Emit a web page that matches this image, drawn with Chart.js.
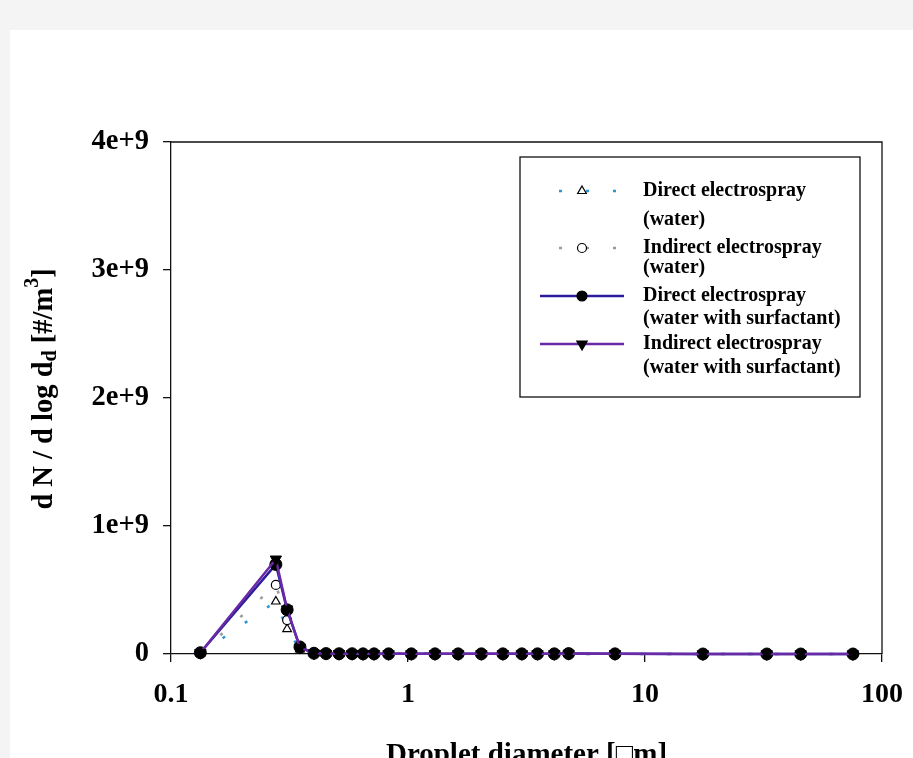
<!DOCTYPE html>
<html>
<head>
<meta charset="utf-8">
<script src="https://cdn.jsdelivr.net/npm/chart.js@4/dist/chart.umd.min.js"></script>
<style>
  html, body { margin: 0; padding: 0; background: #f4f4f4; overflow: hidden; }
  #wrap { position: absolute; left: 10px; top: 30px; width: 903px; height: 743px; background: #ffffff; }
  canvas { display: block; }
</style>
</head>
<body>
<div id="wrap"><canvas id="c" width="903" height="743"></canvas></div>
<script>
// ---- data ----
const diameters = [0.133, 0.277, 0.309, 0.350, 0.401, 0.451, 0.512, 0.581, 0.646, 0.719, 0.828, 1.033, 1.300, 1.628, 2.040, 2.514, 3.022, 3.519, 4.143, 4.761, 7.471, 17.55, 32.65, 45.4, 75.4];
const directWater = [4e6, 4.1e8, 1.95e8, 3.5e7, 4e6, 2e6, 1e6, 1e6, 1e6, 1e6, 1e6, 1e6, 1e6, 1e6, 1e6, 1e6, 1e6, 1e6, 1e6, 1e6, 0, 0, 0, 0, 0];
const indirectWater = [5e6, 5.4e8, 2.65e8, 4e7, 5e6, 2e6, 1e6, 1e6, 1e6, 1e6, 1e6, 1e6, 1e6, 1e6, 1e6, 1e6, 1e6, 1e6, 1e6, 1e6, 0, 0, 0, 0, 0];
const directSurf = [1e7, 7.0e8, 3.45e8, 5.5e7, 6e6, 3e6, 2e6, 2e6, 1e6, 1e6, 1e6, 1e6, 1e6, 1e6, 1e6, 1e6, 1e6, 1e6, 1e6, 3e6, 1e6, 0, 0, 0, 0];
const indirectSurf = [1e7, 7.4e8, 3.5e8, 5e7, 5e6, 3e6, 2e6, 2e6, 1e6, 1e6, 1e6, 1e6, 1e6, 1e6, 1e6, 1e6, 1e6, 1e6, 1e6, 3e6, 1e6, 0, 0, 0, 0];
const xTickValues = [0.1, 1, 10, 100];
const yTickValues = [0, 1e9, 2e9, 3e9, 4e9];
const seriesNames = [
  ['Direct electrospray', '(water)'],
  ['Indirect electrospray', '(water)'],
  ['Direct electrospray', '(water with surfactant)'],
  ['Indirect electrospray', '(water with surfactant)']
];

const pts = (ys) => diameters.map((x, i) => ({x: x, y: ys[i]}));
const SERIF = '"Liberation Serif", "Times New Roman", serif';
const DOT = [3, 24];
const colBlueDot = '#2a95d0';
const colGrayDot = '#9a9a9a';
const colDirect = '#2a1c9a';
const colIndirect = '#6a2aa8';

const framePlugin = {
  id: 'frame',
  afterDraw(chart) {
    const ctx = chart.ctx;
    const a = chart.chartArea;
    ctx.save();
    ctx.strokeStyle = '#111';
    ctx.lineWidth = 1.3;
    ctx.beginPath();
    ctx.moveTo(a.left, a.top); ctx.lineTo(a.right, a.top); ctx.lineTo(a.right, a.bottom);
    ctx.stroke();

    // y-axis title with subscript / superscript
    const big = 'bold 28.5px ' + SERIF;
    const small = 'bold 20px ' + SERIF;
    const parts = [
      {t: 'd N / d log d', f: big, dy: 0},
      {t: 'd', f: small, dy: 6},
      {t: ' [#/m', f: big, dy: 0},
      {t: '3', f: small, dy: -12},
      {t: ']', f: big, dy: 0}
    ];
    let total = 0;
    parts.forEach(p => { ctx.font = p.f; p.w = ctx.measureText(p.t).width; total += p.w; });
    ctx.translate(35, 359);
    ctx.rotate(-Math.PI / 2);
    ctx.fillStyle = '#000';
    ctx.textBaseline = 'middle';
    ctx.textAlign = 'left';
    let x = -total / 2;
    parts.forEach(p => { ctx.font = p.f; ctx.fillText(p.t, x, p.dy); x += p.w; });
    ctx.restore();

    // legend
    ctx.save();
    const L = 510, T = 127, R = 850, B = 367;
    ctx.fillStyle = '#fff';
    ctx.fillRect(L, T, R - L, B - T);
    ctx.strokeStyle = '#111';
    ctx.lineWidth = 1.3;
    ctx.strokeRect(L, T, R - L, B - T);
    const rows = [
      {y: 161, y2: 190, color: colBlueDot, dash: DOT, lx0: 549, style: 'triangle', rot: 0, fill: '#fff', r: 5},
      {y: 218, y2: 238, color: colGrayDot, dash: DOT, lx0: 549, style: 'circle', rot: 0, fill: '#fff', r: 4.5},
      {y: 266, y2: 289, color: colDirect, dash: [], lx0: 530, style: 'circle', rot: 0, fill: '#000', r: 5},
      {y: 314, y2: 338, color: colIndirect, dash: [], lx0: 530, style: 'triangle', rot: 180, fill: '#000', r: 6}
    ];
    rows.forEach((r, i) => {
      ctx.save();
      ctx.strokeStyle = r.color;
      ctx.lineWidth = 2.5;
      ctx.setLineDash(r.dash);
      ctx.beginPath();
      ctx.moveTo(r.lx0, r.y);
      ctx.lineTo(614, r.y);
      ctx.stroke();
      ctx.restore();
      ctx.save();
      ctx.fillStyle = r.fill;
      ctx.strokeStyle = '#000';
      ctx.lineWidth = 1.2;
      Chart.helpers.drawPoint(ctx, {pointStyle: r.style, radius: r.r, borderWidth: 1.2, rotation: r.rot}, 572, r.y);
      ctx.restore();
      ctx.fillStyle = '#000';
      ctx.font = 'bold 20px ' + SERIF;
      ctx.textBaseline = 'middle';
      ctx.textAlign = 'left';
      ctx.fillText(seriesNames[i][0], 633, r.y);
      ctx.fillText(seriesNames[i][1], 633, r.y2);
    });
    ctx.restore();
  }
};

new Chart(document.getElementById('c'), {
  type: 'line',
  data: {
    datasets: [
      {label: seriesNames[3].join(' '), data: pts(indirectSurf), borderColor: colIndirect, borderWidth: 2.5,
       pointStyle: 'triangle', rotation: 180, pointRadius: 6.5, pointBackgroundColor: '#000', pointBorderColor: '#000', pointBorderWidth: 1, order: 0, clip: false},
      {label: seriesNames[2].join(' '), data: pts(directSurf), borderColor: colDirect, borderWidth: 2.5,
       pointStyle: 'circle', pointRadius: 6, pointBackgroundColor: '#000', pointBorderColor: '#000', pointBorderWidth: 1, order: 1, clip: false},
      {label: seriesNames[1].join(' '), data: pts(indirectWater), borderColor: colGrayDot, borderWidth: 2.5, borderDash: DOT,
       pointStyle: 'circle', pointRadius: 4.5, pointBackgroundColor: '#fff', pointBorderColor: '#000', pointBorderWidth: 1.2, order: 2, clip: false},
      {label: seriesNames[0].join(' '), data: pts(directWater), borderColor: colBlueDot, borderWidth: 2.5, borderDash: DOT,
       pointStyle: 'triangle', pointRadius: 5, pointBackgroundColor: '#fff', pointBorderColor: '#000', pointBorderWidth: 1.2, order: 3, clip: false}
    ]
  },
  options: {
    responsive: false,
    animation: false,
    devicePixelRatio: 1,
    layout: {padding: {top: 112, right: 31, left: 0, bottom: 0}},
    plugins: {legend: {display: false}, tooltip: {enabled: false}},
    elements: {line: {tension: 0}},
    scales: {
      x: {
        type: 'logarithmic', min: 0.1, max: 100,
        afterFit(s) { s.height = 119; s.paddingLeft = 0; s.paddingRight = 0; },
        afterBuildTicks(s) { s.ticks = xTickValues.map(v => ({value: v})); },
        grid: {display: true, drawOnChartArea: false, drawTicks: true, tickLength: 8, color: '#111', lineWidth: 1.3},
        border: {display: true, color: '#111', width: 1.3},
        ticks: {autoSkip: false, maxRotation: 0, padding: 16, color: '#000',
                font: {family: SERIF, size: 28, weight: 'bold'},
                callback: (v) => String(v)},
        title: {display: true, text: 'Droplet diameter [\u25A1m]', color: '#000', padding: 0,
                font: {family: SERIF, size: 29, weight: 'bold', lineHeight: 1.2}}
      },
      y: {
        type: 'linear', min: 0, max: 4e9,
        afterFit(s) { s.width = 161; s.paddingTop = 0; s.paddingBottom = 0; },
        afterBuildTicks(s) { s.ticks = yTickValues.map(v => ({value: v})); },
        grid: {display: true, drawOnChartArea: false, drawTicks: true, tickLength: 8, color: '#111', lineWidth: 1.3},
        border: {display: true, color: '#111', width: 1.3},
        ticks: {padding: 14, color: '#000', font: {family: SERIF, size: 28.5, weight: 'bold'},
                callback: (v) => v === 0 ? '0' : (v / 1e9) + 'e+9'}
      }
    }
  },
  plugins: [framePlugin]
});
</script>
</body>
</html>
